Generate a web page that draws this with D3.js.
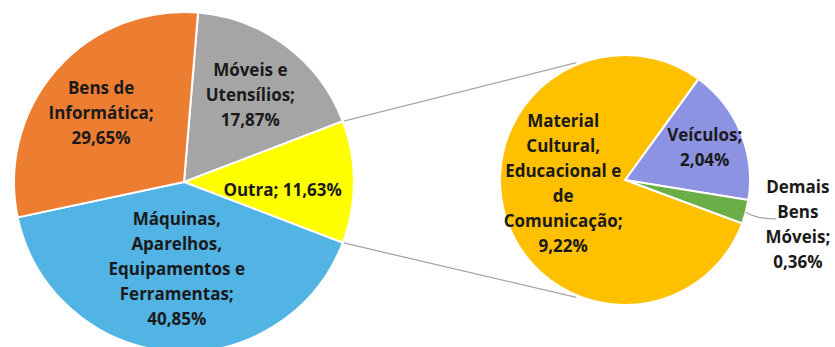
<!DOCTYPE html>
<html>
<head>
<meta charset="utf-8">
<script src="https://cdn.jsdelivr.net/npm/d3@7"></script>
<style>
  html, body { margin: 0; padding: 0; background: #fff; }
  svg text { font-family: "Open Sans", Lato, sans-serif; font-weight: 700; fill: #1a1a1a; }
</style>
</head>
<body>
<div id="js_chart"></div>
<script>
// main pie (clockwise from the top)
const mainNames = ["Móveis e Utensílios", "Outra", "Máquinas, Aparelhos, Equipamentos e Ferramentas", "Bens de Informática"];
const mainValues = [17.87, 11.63, 40.85, 29.65];
const mainLines = [["Móveis e", "Utensílios;"], ["Outra;"], ["Máquinas,", "Aparelhos,", "Equipamentos e", "Ferramentas;"], ["Bens de", "Informática;"]];
const mainColors = ["#a5a5a5", "#ffff00", "#52b3e5", "#ed7d31"];

// second pie, breakdown of "Outra"
const subNames = ["Veículos", "Demais Bens Móveis", "Material Cultural, Educacional e de Comunicação"];
const subValues = [2.04, 0.36, 9.22];
const subLines = [["Veículos;"], ["Demais", "Bens", "Móveis;"], ["Material", "Cultural,", "Educacional e", "de", "Comunicação;"]];
const subColors = ["#8c93e3", "#6aae48", "#ffc000"];

const fmt = v => v.toFixed(2).replace(".", ",") + "%";

function createPlot() {
    let width = 835, height = 347;
    let svg = d3.select("#js_chart").append("svg")
        .attr("width", width)
        .attr("height", height);

    const deg = Math.PI / 180;
    const lineH = 25;

    // main pie, the "Outra" slice is centred on 3 o'clock
    let r1 = 170, c1 = [184, 182];
    let outraIdx = 1;
    let before = d3.sum(mainValues.slice(0, outraIdx)) + mainValues[outraIdx] / 2;
    let start1 = Math.PI / 2 - before / d3.sum(mainValues) * 2 * Math.PI;
    let pie1 = d3.pie().sort(null).startAngle(start1).endAngle(start1 + 2 * Math.PI);
    let arcs1 = pie1(mainValues);
    let arc1 = d3.arc().innerRadius(0).outerRadius(r1);

    // second pie
    let r2 = 125, c2 = [625, 180];
    let start2 = 36 * deg;
    let pie2 = d3.pie().sort(null).startAngle(start2).endAngle(start2 + 2 * Math.PI);
    let arcs2 = pie2(subValues);
    let arc2 = d3.arc().innerRadius(0).outerRadius(r2);

    const pt = (c, r, a) => [c[0] + r * Math.sin(a), c[1] - r * Math.cos(a)];

    // connector lines between the two pies
    let o = arcs1[outraIdx];
    let links = [
        [pt(c1, r1, o.startAngle), pt(c2, r2 + 2, -22.5 * deg)],
        [pt(c1, r1, o.endAngle), pt(c2, r2 + 2, 202.5 * deg)]
    ];
    svg.append("g").selectAll("line").data(links).enter().append("line")
        .attr("x1", d => d[0][0]).attr("y1", d => d[0][1])
        .attr("x2", d => d[1][0]).attr("y2", d => d[1][1])
        .attr("stroke", "#a6a6a6").attr("stroke-width", 1.3);

    let g1 = svg.append("g").attr("transform", "translate(" + c1[0] + "," + c1[1] + ")");
    g1.selectAll("path").data(arcs1).enter().append("path")
        .attr("d", arc1)
        .attr("fill", (d, i) => mainColors[i])
        .attr("stroke", "#fff").attr("stroke-width", 2);

    let g2 = svg.append("g").attr("transform", "translate(" + c2[0] + "," + c2[1] + ")");
    g2.selectAll("path").data(arcs2).enter().append("path")
        .attr("d", arc2)
        .attr("fill", (d, i) => subColors[i])
        .attr("stroke", "#fff").attr("stroke-width", 2);

    // label placement: fraction of radius along the slice middle, plus a nudge
    let mainPos = [[0.64, 1, 0], [0.58, 0, 8], [0.55, 0, -6], [0.65, 0, 4]];
    let subPos = [[0.69, 0, 0], [1.0, 0, 0], [0.5, -2, -15]];

    function labelLines(lines, v, inline) {
        let out = lines.slice();
        if (inline) out[out.length - 1] += " " + fmt(v);
        else out.push(fmt(v));
        return out;
    }

    function drawLabel(g, x, y, lines) {
        let t = g.append("text").attr("text-anchor", "middle").style("font-size", "17px");
        let y0 = y - (lines.length - 1) * lineH / 2 + 6;
        lines.forEach((s, i) => {
            t.append("tspan").attr("x", x).attr("y", y0 + i * lineH).text(s);
        });
    }

    arcs1.forEach((d, i) => {
        let mid = (d.startAngle + d.endAngle) / 2;
        let p = pt([0, 0], mainPos[i][0] * r1, mid);
        drawLabel(g1, p[0] + mainPos[i][1], p[1] + mainPos[i][2],
            labelLines(mainLines[i], mainValues[i], i === outraIdx));
    });

    arcs2.forEach((d, i) => {
        let mid = (d.startAngle + d.endAngle) / 2;
        if (i === 1) {
            // small slice: label outside with a leader line
            let a = pt([0, 0], r2, mid);
            let b = [a[0] + 30, a[1] + 7];
            g2.append("path")
                .attr("d", "M" + a[0] + "," + a[1] + "Q" + (a[0] + 10) + "," + (b[1]) + " " + b[0] + "," + b[1])
                .attr("fill", "none").attr("stroke", "#a6a6a6").attr("stroke-width", 1.2);
            drawLabel(g2, b[0] + 22, b[1] + 6, labelLines(subLines[i], subValues[i], false));
            return;
        }
        let p = pt([0, 0], subPos[i][0] * r2, mid);
        drawLabel(g2, p[0] + subPos[i][1], p[1] + subPos[i][2],
            labelLines(subLines[i], subValues[i], false));
    });
}

createPlot();
</script>
</body>
</html>
